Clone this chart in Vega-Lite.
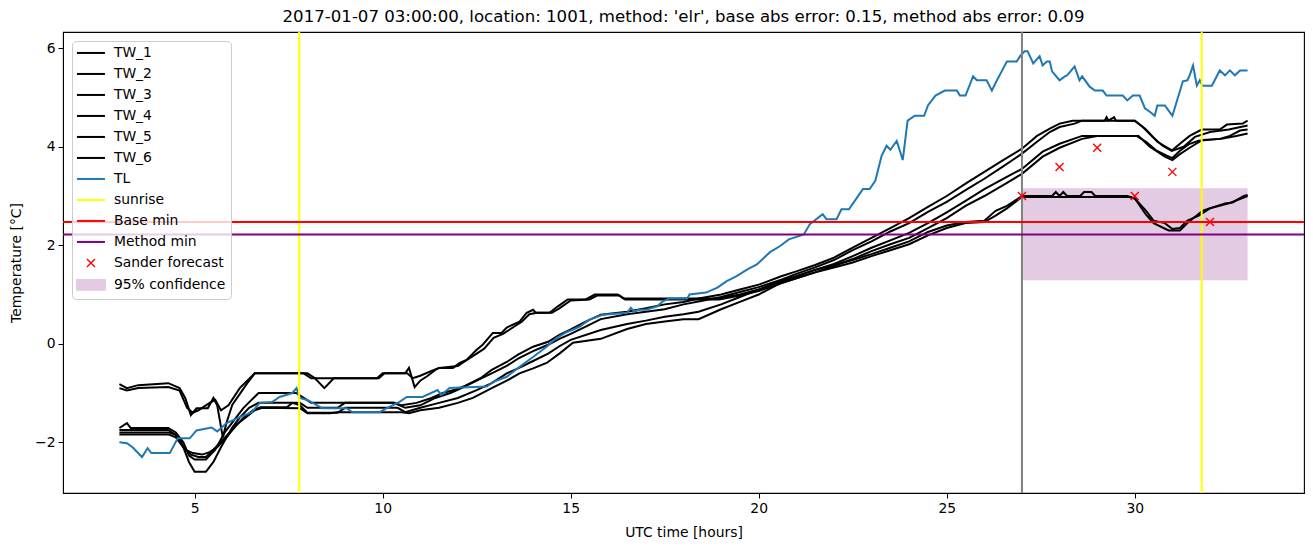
{
  "$schema": "https://vega.github.io/schema/vega-lite/v6.json",
  "width": 1241,
  "height": 461,
  "autosize": {"type": "none"},
  "padding": {"left": 63, "top": 32, "right": 9, "bottom": 54},
  "title": {"text": "2017-01-07 03:00:00, location: 1001, method: 'elr', base abs error: 0.15, method abs error: 0.09", "font": "DejaVu Sans", "fontSize": 16.6, "fontWeight": "normal", "color": "black", "anchor": "middle", "offset": 5},
  "config": {
    "view": {"stroke": "black", "strokeWidth": 1.1},
    "axis": {"labelFont": "DejaVu Sans", "labelFontSize": 13.9, "titleFont": "DejaVu Sans", "titleFontSize": 13.9, "titleFontWeight": "normal", "labelColor": "black", "titleColor": "black", "tickColor": "black", "domainColor": "black", "tickSize": 5, "grid": false, "labelPadding": 3},
    "axisX": {"titlePadding": 11},
    "axisY": {"titlePadding": 11}
  },
  "datasets": {
    "conf": [{"series": "95% confidence", "t0": 27, "t1": 33, "lo": 1.29, "hi": 3.16}],
    "vlines": [{"series": "sunrise", "t": 7.78}, {"series": "sunrise", "t": 31.78}],
    "hlines": [{"series": "Base min", "v": 2.47}, {"series": "Method min", "v": 2.22}],
    "now": [{"t": 27}],
    "forecast": [
      {"series": "Sander forecast", "t": 27, "v": 3.0},
      {"series": "Sander forecast", "t": 28, "v": 3.59},
      {"series": "Sander forecast", "t": 29, "v": 3.98},
      {"series": "Sander forecast", "t": 30, "v": 3.0},
      {"series": "Sander forecast", "t": 31, "v": 3.49},
      {"series": "Sander forecast", "t": 32, "v": 2.47}
    ],
    "lines": [
      {"series":"TW_1","t":3.0,"v":-1.71},{"series":"TW_1","t":3.2,"v":-1.61},{"series":"TW_1","t":3.3,"v":-1.71},{"series":"TW_1","t":4.3,"v":-1.71},{"series":"TW_1","t":4.5,"v":-1.8},{"series":"TW_1","t":4.7,"v":-2.0},{"series":"TW_1","t":4.85,"v":-2.27},{"series":"TW_1","t":5.0,"v":-2.35},{"series":"TW_1","t":5.3,"v":-2.35},{"series":"TW_1","t":5.55,"v":-2.15},{"series":"TW_1","t":5.8,"v":-1.8},{"series":"TW_1","t":6.0,"v":-1.6},{"series":"TW_1","t":6.3,"v":-1.3},{"series":"TW_1","t":6.5,"v":-1.15},{"series":"TW_1","t":6.7,"v":-1.0},{"series":"TW_1","t":7.7,"v":-1.0},{"series":"TW_1","t":7.9,"v":-1.1},{"series":"TW_1","t":8.1,"v":-1.2},{"series":"TW_1","t":10.3,"v":-1.2},{"series":"TW_1","t":10.5,"v":-1.25},{"series":"TW_1","t":10.9,"v":-1.2},{"series":"TW_1","t":11.3,"v":-1.1},{"series":"TW_1","t":11.6,"v":-1.0},{"series":"TW_1","t":11.9,"v":-0.94},{"series":"TW_1","t":12.2,"v":-0.85},{"series":"TW_1","t":12.6,"v":-0.7},{"series":"TW_1","t":12.9,"v":-0.53},{"series":"TW_1","t":13.3,"v":-0.37},{"series":"TW_1","t":13.6,"v":-0.22},{"series":"TW_1","t":14.0,"v":-0.06},{"series":"TW_1","t":14.4,"v":0.04},{"series":"TW_1","t":14.7,"v":0.18},{"series":"TW_1","t":15.0,"v":0.29},{"series":"TW_1","t":15.4,"v":0.45},{"series":"TW_1","t":15.8,"v":0.59},{"series":"TW_1","t":16.5,"v":0.65},{"series":"TW_1","t":17.0,"v":0.72},{"series":"TW_1","t":17.5,"v":0.8},{"series":"TW_1","t":18.0,"v":0.85},{"series":"TW_1","t":18.4,"v":0.92},{"series":"TW_1","t":19.0,"v":1.0},{"series":"TW_1","t":19.5,"v":1.1},{"series":"TW_1","t":20.0,"v":1.2},{"series":"TW_1","t":20.6,"v":1.37},{"series":"TW_1","t":21.0,"v":1.47},{"series":"TW_1","t":21.5,"v":1.6},{"series":"TW_1","t":22.0,"v":1.75},{"series":"TW_1","t":22.5,"v":1.95},{"series":"TW_1","t":23.0,"v":2.15},{"series":"TW_1","t":23.5,"v":2.35},{"series":"TW_1","t":24.0,"v":2.55},{"series":"TW_1","t":24.5,"v":2.78},{"series":"TW_1","t":25.0,"v":3.0},{"series":"TW_1","t":25.5,"v":3.25},{"series":"TW_1","t":26.0,"v":3.49},{"series":"TW_1","t":26.5,"v":3.73},{"series":"TW_1","t":27.0,"v":3.96},{"series":"TW_1","t":27.4,"v":4.22},{"series":"TW_1","t":27.74,"v":4.37},{"series":"TW_1","t":28.0,"v":4.47},{"series":"TW_1","t":28.35,"v":4.53},{"series":"TW_1","t":29.2,"v":4.53},{"series":"TW_1","t":29.25,"v":4.6},{"series":"TW_1","t":29.3,"v":4.53},{"series":"TW_1","t":29.45,"v":4.6},{"series":"TW_1","t":29.5,"v":4.53},{"series":"TW_1","t":30.0,"v":4.53},{"series":"TW_1","t":30.2,"v":4.41},{"series":"TW_1","t":30.48,"v":4.2},{"series":"TW_1","t":30.74,"v":4.02},{"series":"TW_1","t":30.98,"v":3.92},{"series":"TW_1","t":31.2,"v":4.06},{"series":"TW_1","t":31.46,"v":4.22},{"series":"TW_1","t":31.78,"v":4.35},{"series":"TW_1","t":32.26,"v":4.35},{"series":"TW_1","t":32.45,"v":4.45},{"series":"TW_1","t":32.87,"v":4.47},{"series":"TW_1","t":33.0,"v":4.53},
      {"series":"TW_2","t":3.0,"v":-1.75},{"series":"TW_2","t":4.3,"v":-1.75},{"series":"TW_2","t":4.5,"v":-1.85},{"series":"TW_2","t":4.65,"v":-2.0},{"series":"TW_2","t":4.85,"v":-2.4},{"series":"TW_2","t":5.0,"v":-2.6},{"series":"TW_2","t":5.3,"v":-2.6},{"series":"TW_2","t":5.5,"v":-2.4},{"series":"TW_2","t":5.7,"v":-2.1},{"series":"TW_2","t":5.85,"v":-1.9},{"series":"TW_2","t":6.0,"v":-1.7},{"series":"TW_2","t":6.2,"v":-1.5},{"series":"TW_2","t":6.45,"v":-1.3},{"series":"TW_2","t":6.7,"v":-1.2},{"series":"TW_2","t":7.8,"v":-1.2},{"series":"TW_2","t":8.0,"v":-1.3},{"series":"TW_2","t":8.8,"v":-1.3},{"series":"TW_2","t":9.0,"v":-1.2},{"series":"TW_2","t":10.3,"v":-1.2},{"series":"TW_2","t":10.6,"v":-1.3},{"series":"TW_2","t":11.0,"v":-1.25},{"series":"TW_2","t":11.4,"v":-1.1},{"series":"TW_2","t":11.8,"v":-1.0},{"series":"TW_2","t":12.1,"v":-0.9},{"series":"TW_2","t":12.5,"v":-0.75},{"series":"TW_2","t":12.9,"v":-0.6},{"series":"TW_2","t":13.3,"v":-0.45},{"series":"TW_2","t":13.6,"v":-0.3},{"series":"TW_2","t":14.0,"v":-0.15},{"series":"TW_2","t":14.4,"v":-0.02},{"series":"TW_2","t":14.7,"v":0.1},{"series":"TW_2","t":15.0,"v":0.2},{"series":"TW_2","t":15.4,"v":0.35},{"series":"TW_2","t":15.8,"v":0.5},{"series":"TW_2","t":16.5,"v":0.6},{"series":"TW_2","t":17.0,"v":0.65},{"series":"TW_2","t":17.5,"v":0.7},{"series":"TW_2","t":18.0,"v":0.8},{"series":"TW_2","t":18.4,"v":0.86},{"series":"TW_2","t":19.0,"v":0.95},{"series":"TW_2","t":19.5,"v":1.05},{"series":"TW_2","t":20.0,"v":1.15},{"series":"TW_2","t":20.6,"v":1.3},{"series":"TW_2","t":21.0,"v":1.42},{"series":"TW_2","t":21.5,"v":1.55},{"series":"TW_2","t":22.0,"v":1.7},{"series":"TW_2","t":22.5,"v":1.9},{"series":"TW_2","t":23.0,"v":2.08},{"series":"TW_2","t":23.5,"v":2.28},{"series":"TW_2","t":24.0,"v":2.45},{"series":"TW_2","t":24.5,"v":2.68},{"series":"TW_2","t":25.0,"v":2.88},{"series":"TW_2","t":25.5,"v":3.12},{"series":"TW_2","t":26.0,"v":3.35},{"series":"TW_2","t":26.5,"v":3.6},{"series":"TW_2","t":27.0,"v":3.86},{"series":"TW_2","t":27.4,"v":4.1},{"series":"TW_2","t":27.74,"v":4.3},{"series":"TW_2","t":28.0,"v":4.4},{"series":"TW_2","t":28.4,"v":4.47},{"series":"TW_2","t":28.6,"v":4.53},{"series":"TW_2","t":30.0,"v":4.53},{"series":"TW_2","t":30.3,"v":4.35},{"series":"TW_2","t":30.6,"v":4.1},{"series":"TW_2","t":31.0,"v":3.92},{"series":"TW_2","t":31.3,"v":4.0},{"series":"TW_2","t":31.6,"v":4.2},{"series":"TW_2","t":32.0,"v":4.3},{"series":"TW_2","t":32.5,"v":4.35},{"series":"TW_2","t":33.0,"v":4.43},
      {"series":"TW_3","t":3.0,"v":-1.8},{"series":"TW_3","t":4.3,"v":-1.8},{"series":"TW_3","t":4.5,"v":-1.85},{"series":"TW_3","t":4.7,"v":-2.1},{"series":"TW_3","t":4.9,"v":-2.25},{"series":"TW_3","t":5.1,"v":-2.3},{"series":"TW_3","t":5.3,"v":-2.3},{"series":"TW_3","t":5.5,"v":-2.15},{"series":"TW_3","t":5.75,"v":-1.95},{"series":"TW_3","t":6.0,"v":-1.75},{"series":"TW_3","t":6.3,"v":-1.5},{"series":"TW_3","t":6.55,"v":-1.35},{"series":"TW_3","t":6.75,"v":-1.29},{"series":"TW_3","t":7.45,"v":-1.29},{"series":"TW_3","t":7.6,"v":-1.2},{"series":"TW_3","t":7.8,"v":-1.25},{"series":"TW_3","t":8.0,"v":-1.4},{"series":"TW_3","t":8.8,"v":-1.4},{"series":"TW_3","t":9.0,"v":-1.3},{"series":"TW_3","t":10.4,"v":-1.3},{"series":"TW_3","t":10.6,"v":-1.39},{"series":"TW_3","t":11.0,"v":-1.3},{"series":"TW_3","t":11.5,"v":-1.2},{"series":"TW_3","t":12.0,"v":-1.1},{"series":"TW_3","t":12.5,"v":-0.94},{"series":"TW_3","t":12.9,"v":-0.8},{"series":"TW_3","t":13.3,"v":-0.6},{"series":"TW_3","t":13.6,"v":-0.5},{"series":"TW_3","t":14.0,"v":-0.35},{"series":"TW_3","t":14.4,"v":-0.2},{"series":"TW_3","t":14.7,"v":-0.05},{"series":"TW_3","t":15.0,"v":0.08},{"series":"TW_3","t":15.8,"v":0.28},{"series":"TW_3","t":16.5,"v":0.4},{"series":"TW_3","t":17.0,"v":0.47},{"series":"TW_3","t":17.5,"v":0.55},{"series":"TW_3","t":18.0,"v":0.6},{"series":"TW_3","t":18.4,"v":0.65},{"series":"TW_3","t":19.0,"v":0.8},{"series":"TW_3","t":19.5,"v":0.95},{"series":"TW_3","t":20.0,"v":1.1},{"series":"TW_3","t":20.6,"v":1.27},{"series":"TW_3","t":21.0,"v":1.37},{"series":"TW_3","t":21.5,"v":1.5},{"series":"TW_3","t":22.0,"v":1.62},{"series":"TW_3","t":22.5,"v":1.78},{"series":"TW_3","t":23.0,"v":1.95},{"series":"TW_3","t":23.5,"v":2.1},{"series":"TW_3","t":24.0,"v":2.25},{"series":"TW_3","t":24.5,"v":2.45},{"series":"TW_3","t":25.0,"v":2.67},{"series":"TW_3","t":25.5,"v":2.9},{"series":"TW_3","t":26.0,"v":3.14},{"series":"TW_3","t":26.5,"v":3.35},{"series":"TW_3","t":27.0,"v":3.55},{"series":"TW_3","t":27.55,"v":3.9},{"series":"TW_3","t":28.0,"v":4.06},{"series":"TW_3","t":28.6,"v":4.22},{"series":"TW_3","t":30.05,"v":4.22},{"series":"TW_3","t":30.3,"v":4.1},{"series":"TW_3","t":30.58,"v":3.92},{"series":"TW_3","t":30.85,"v":3.82},{"series":"TW_3","t":31.0,"v":3.77},{"series":"TW_3","t":31.2,"v":3.92},{"series":"TW_3","t":31.46,"v":4.06},{"series":"TW_3","t":31.7,"v":4.12},{"series":"TW_3","t":32.26,"v":4.16},{"series":"TW_3","t":32.53,"v":4.22},{"series":"TW_3","t":32.8,"v":4.33},{"series":"TW_3","t":33.0,"v":4.35},
      {"series":"TW_4","t":3.0,"v":-1.84},{"series":"TW_4","t":4.3,"v":-1.84},{"series":"TW_4","t":4.5,"v":-1.9},{"series":"TW_4","t":4.75,"v":-2.15},{"series":"TW_4","t":4.95,"v":-2.22},{"series":"TW_4","t":5.2,"v":-2.25},{"series":"TW_4","t":5.4,"v":-2.2},{"series":"TW_4","t":5.6,"v":-2.1},{"series":"TW_4","t":5.85,"v":-1.9},{"series":"TW_4","t":6.1,"v":-1.65},{"series":"TW_4","t":6.35,"v":-1.5},{"series":"TW_4","t":6.6,"v":-1.35},{"series":"TW_4","t":6.8,"v":-1.3},{"series":"TW_4","t":7.8,"v":-1.31},{"series":"TW_4","t":8.0,"v":-1.41},{"series":"TW_4","t":8.6,"v":-1.41},{"series":"TW_4","t":8.8,"v":-1.39},{"series":"TW_4","t":10.5,"v":-1.39},{"series":"TW_4","t":10.7,"v":-1.41},{"series":"TW_4","t":11.0,"v":-1.35},{"series":"TW_4","t":11.5,"v":-1.3},{"series":"TW_4","t":12.0,"v":-1.2},{"series":"TW_4","t":12.4,"v":-1.1},{"series":"TW_4","t":12.9,"v":-0.9},{"series":"TW_4","t":13.3,"v":-0.75},{"series":"TW_4","t":13.64,"v":-0.6},{"series":"TW_4","t":14.0,"v":-0.5},{"series":"TW_4","t":14.36,"v":-0.39},{"series":"TW_4","t":14.7,"v":-0.2},{"series":"TW_4","t":15.06,"v":0.02},{"series":"TW_4","t":15.8,"v":0.1},{"series":"TW_4","t":16.5,"v":0.3},{"series":"TW_4","t":17.0,"v":0.4},{"series":"TW_4","t":17.5,"v":0.45},{"series":"TW_4","t":18.0,"v":0.5},{"series":"TW_4","t":18.4,"v":0.5},{"series":"TW_4","t":19.0,"v":0.7},{"series":"TW_4","t":19.5,"v":0.85},{"series":"TW_4","t":20.0,"v":1.0},{"series":"TW_4","t":20.6,"v":1.24},{"series":"TW_4","t":21.0,"v":1.33},{"series":"TW_4","t":21.5,"v":1.45},{"series":"TW_4","t":22.0,"v":1.58},{"series":"TW_4","t":22.5,"v":1.72},{"series":"TW_4","t":23.0,"v":1.88},{"series":"TW_4","t":23.5,"v":2.02},{"series":"TW_4","t":24.0,"v":2.15},{"series":"TW_4","t":24.5,"v":2.35},{"series":"TW_4","t":25.0,"v":2.55},{"series":"TW_4","t":25.5,"v":2.8},{"series":"TW_4","t":26.0,"v":3.0},{"series":"TW_4","t":26.5,"v":3.22},{"series":"TW_4","t":27.0,"v":3.45},{"series":"TW_4","t":27.55,"v":3.8},{"series":"TW_4","t":28.0,"v":3.98},{"series":"TW_4","t":28.6,"v":4.16},{"series":"TW_4","t":29.0,"v":4.22},{"series":"TW_4","t":30.1,"v":4.22},{"series":"TW_4","t":30.4,"v":4.0},{"series":"TW_4","t":30.8,"v":3.8},{"series":"TW_4","t":31.0,"v":3.73},{"series":"TW_4","t":31.2,"v":3.85},{"series":"TW_4","t":31.5,"v":4.0},{"series":"TW_4","t":31.8,"v":4.14},{"series":"TW_4","t":32.3,"v":4.16},{"series":"TW_4","t":32.7,"v":4.22},{"series":"TW_4","t":33.0,"v":4.27},
      {"series":"TW_5","t":3.0,"v":-0.82},{"series":"TW_5","t":3.2,"v":-0.9},{"series":"TW_5","t":3.5,"v":-0.84},{"series":"TW_5","t":4.3,"v":-0.8},{"series":"TW_5","t":4.6,"v":-0.9},{"series":"TW_5","t":4.75,"v":-1.1},{"series":"TW_5","t":4.9,"v":-1.45},{"series":"TW_5","t":5.05,"v":-1.31},{"series":"TW_5","t":5.35,"v":-1.31},{"series":"TW_5","t":5.5,"v":-1.1},{"series":"TW_5","t":5.6,"v":-1.25},{"series":"TW_5","t":5.75,"v":-1.9},{"series":"TW_5","t":5.85,"v":-1.6},{"series":"TW_5","t":6.0,"v":-1.24},{"series":"TW_5","t":6.4,"v":-0.8},{"series":"TW_5","t":6.6,"v":-0.6},{"series":"TW_5","t":8.0,"v":-0.6},{"series":"TW_5","t":8.2,"v":-0.7},{"series":"TW_5","t":8.45,"v":-0.9},{"series":"TW_5","t":8.7,"v":-0.7},{"series":"TW_5","t":9.85,"v":-0.7},{"series":"TW_5","t":10.0,"v":-0.6},{"series":"TW_5","t":10.6,"v":-0.6},{"series":"TW_5","t":10.7,"v":-0.49},{"series":"TW_5","t":10.85,"v":-0.88},{"series":"TW_5","t":11.0,"v":-0.75},{"series":"TW_5","t":11.2,"v":-0.65},{"series":"TW_5","t":11.4,"v":-0.53},{"series":"TW_5","t":11.5,"v":-0.49},{"series":"TW_5","t":11.87,"v":-0.49},{"series":"TW_5","t":12.05,"v":-0.39},{"series":"TW_5","t":12.23,"v":-0.33},{"series":"TW_5","t":12.5,"v":-0.12},{"series":"TW_5","t":12.66,"v":-0.02},{"series":"TW_5","t":12.93,"v":0.22},{"series":"TW_5","t":13.16,"v":0.22},{"series":"TW_5","t":13.3,"v":0.33},{"series":"TW_5","t":13.64,"v":0.45},{"series":"TW_5","t":13.83,"v":0.63},{"series":"TW_5","t":14.0,"v":0.69},{"series":"TW_5","t":14.07,"v":0.63},{"series":"TW_5","t":14.44,"v":0.63},{"series":"TW_5","t":14.66,"v":0.76},{"series":"TW_5","t":14.92,"v":0.9},{"series":"TW_5","t":15.4,"v":0.9},{"series":"TW_5","t":15.64,"v":1.0},{"series":"TW_5","t":16.25,"v":1.0},{"series":"TW_5","t":16.4,"v":0.92},{"series":"TW_5","t":18.9,"v":0.92},{"series":"TW_5","t":19.5,"v":1.0},{"series":"TW_5","t":20.0,"v":1.1},{"series":"TW_5","t":20.5,"v":1.25},{"series":"TW_5","t":21.0,"v":1.37},{"series":"TW_5","t":21.5,"v":1.5},{"series":"TW_5","t":22.0,"v":1.6},{"series":"TW_5","t":22.5,"v":1.7},{"series":"TW_5","t":23.0,"v":1.82},{"series":"TW_5","t":23.5,"v":1.95},{"series":"TW_5","t":24.0,"v":2.08},{"series":"TW_5","t":24.5,"v":2.27},{"series":"TW_5","t":25.0,"v":2.4},{"series":"TW_5","t":25.5,"v":2.47},{"series":"TW_5","t":26.0,"v":2.5},{"series":"TW_5","t":26.3,"v":2.7},{"series":"TW_5","t":26.6,"v":2.8},{"series":"TW_5","t":27.0,"v":3.0},{"series":"TW_5","t":27.8,"v":3.0},{"series":"TW_5","t":27.9,"v":3.08},{"series":"TW_5","t":28.0,"v":3.0},{"series":"TW_5","t":28.1,"v":3.08},{"series":"TW_5","t":28.2,"v":3.0},{"series":"TW_5","t":28.55,"v":3.0},{"series":"TW_5","t":28.65,"v":3.08},{"series":"TW_5","t":28.85,"v":3.08},{"series":"TW_5","t":28.95,"v":3.0},{"series":"TW_5","t":29.8,"v":3.0},{"series":"TW_5","t":30.0,"v":2.95},{"series":"TW_5","t":30.3,"v":2.7},{"series":"TW_5","t":30.5,"v":2.5},{"series":"TW_5","t":30.8,"v":2.45},{"series":"TW_5","t":31.0,"v":2.33},{"series":"TW_5","t":31.2,"v":2.35},{"series":"TW_5","t":31.4,"v":2.5},{"series":"TW_5","t":31.7,"v":2.6},{"series":"TW_5","t":32.0,"v":2.75},{"series":"TW_5","t":32.4,"v":2.85},{"series":"TW_5","t":32.6,"v":2.87},{"series":"TW_5","t":32.9,"v":3.0},{"series":"TW_5","t":33.0,"v":3.02},
      {"series":"TW_6","t":3.0,"v":-0.9},{"series":"TW_6","t":3.2,"v":-0.95},{"series":"TW_6","t":3.5,"v":-0.9},{"series":"TW_6","t":4.3,"v":-0.88},{"series":"TW_6","t":4.6,"v":-0.95},{"series":"TW_6","t":4.8,"v":-1.3},{"series":"TW_6","t":4.95,"v":-1.4},{"series":"TW_6","t":5.1,"v":-1.35},{"series":"TW_6","t":5.4,"v":-1.2},{"series":"TW_6","t":5.55,"v":-1.14},{"series":"TW_6","t":5.7,"v":-1.35},{"series":"TW_6","t":5.9,"v":-1.25},{"series":"TW_6","t":6.2,"v":-0.9},{"series":"TW_6","t":6.6,"v":-0.6},{"series":"TW_6","t":7.9,"v":-0.6},{"series":"TW_6","t":8.1,"v":-0.7},{"series":"TW_6","t":9.9,"v":-0.7},{"series":"TW_6","t":10.05,"v":-0.6},{"series":"TW_6","t":10.65,"v":-0.6},{"series":"TW_6","t":10.8,"v":-0.7},{"series":"TW_6","t":11.0,"v":-0.65},{"series":"TW_6","t":11.3,"v":-0.55},{"series":"TW_6","t":11.5,"v":-0.49},{"series":"TW_6","t":12.0,"v":-0.45},{"series":"TW_6","t":12.2,"v":-0.35},{"series":"TW_6","t":12.5,"v":-0.2},{"series":"TW_6","t":12.7,"v":-0.1},{"series":"TW_6","t":12.95,"v":0.12},{"series":"TW_6","t":13.2,"v":0.2},{"series":"TW_6","t":13.4,"v":0.3},{"series":"TW_6","t":13.7,"v":0.45},{"series":"TW_6","t":13.9,"v":0.6},{"series":"TW_6","t":14.1,"v":0.63},{"series":"TW_6","t":14.5,"v":0.63},{"series":"TW_6","t":14.7,"v":0.72},{"series":"TW_6","t":15.0,"v":0.88},{"series":"TW_6","t":15.5,"v":0.9},{"series":"TW_6","t":15.7,"v":0.98},{"series":"TW_6","t":16.3,"v":0.98},{"series":"TW_6","t":16.45,"v":0.9},{"series":"TW_6","t":18.95,"v":0.9},{"series":"TW_6","t":19.5,"v":0.98},{"series":"TW_6","t":20.0,"v":1.07},{"series":"TW_6","t":20.5,"v":1.2},{"series":"TW_6","t":21.0,"v":1.33},{"series":"TW_6","t":21.5,"v":1.45},{"series":"TW_6","t":22.0,"v":1.55},{"series":"TW_6","t":22.5,"v":1.65},{"series":"TW_6","t":23.0,"v":1.78},{"series":"TW_6","t":23.5,"v":1.9},{"series":"TW_6","t":24.0,"v":2.02},{"series":"TW_6","t":24.5,"v":2.2},{"series":"TW_6","t":25.0,"v":2.35},{"series":"TW_6","t":25.5,"v":2.45},{"series":"TW_6","t":26.0,"v":2.47},{"series":"TW_6","t":26.3,"v":2.6},{"series":"TW_6","t":26.6,"v":2.75},{"series":"TW_6","t":27.0,"v":2.98},{"series":"TW_6","t":29.85,"v":2.98},{"series":"TW_6","t":30.0,"v":2.95},{"series":"TW_6","t":30.3,"v":2.62},{"series":"TW_6","t":30.5,"v":2.45},{"series":"TW_6","t":30.9,"v":2.3},{"series":"TW_6","t":31.2,"v":2.3},{"series":"TW_6","t":31.4,"v":2.45},{"series":"TW_6","t":31.8,"v":2.7},{"series":"TW_6","t":32.0,"v":2.75},{"series":"TW_6","t":32.5,"v":2.85},{"series":"TW_6","t":33.0,"v":3.0},
      {"series":"TL","t":3.0,"v":-2.0},{"series":"TL","t":3.2,"v":-2.02},{"series":"TL","t":3.35,"v":-2.1},{"series":"TL","t":3.6,"v":-2.3},{"series":"TL","t":3.75,"v":-2.12},{"series":"TL","t":3.85,"v":-2.22},{"series":"TL","t":4.34,"v":-2.22},{"series":"TL","t":4.55,"v":-1.92},{"series":"TL","t":4.87,"v":-1.92},{"series":"TL","t":5.05,"v":-1.76},{"series":"TL","t":5.45,"v":-1.7},{"series":"TL","t":5.6,"v":-1.78},{"series":"TL","t":5.85,"v":-1.61},{"series":"TL","t":6.2,"v":-1.49},{"series":"TL","t":6.52,"v":-1.39},{"series":"TL","t":6.73,"v":-1.2},{"series":"TL","t":7.07,"v":-1.18},{"series":"TL","t":7.26,"v":-1.08},{"series":"TL","t":7.6,"v":-1.0},{"series":"TL","t":7.71,"v":-0.9},{"series":"TL","t":7.79,"v":-1.1},{"series":"TL","t":8.0,"v":-1.14},{"series":"TL","t":8.4,"v":-1.31},{"series":"TL","t":9.04,"v":-1.31},{"series":"TL","t":9.2,"v":-1.39},{"series":"TL","t":9.92,"v":-1.39},{"series":"TL","t":10.1,"v":-1.31},{"series":"TL","t":10.45,"v":-1.18},{"series":"TL","t":10.64,"v":-1.08},{"series":"TL","t":11.06,"v":-1.08},{"series":"TL","t":11.46,"v":-0.94},{"series":"TL","t":11.56,"v":-1.04},{"series":"TL","t":11.78,"v":-0.9},{"series":"TL","t":12.77,"v":-0.87},{"series":"TL","t":12.93,"v":-0.78},{"series":"TL","t":13.3,"v":-0.67},{"series":"TL","t":13.64,"v":-0.47},{"series":"TL","t":14.0,"v":-0.27},{"series":"TL","t":14.36,"v":-0.06},{"series":"TL","t":14.63,"v":0.12},{"series":"TL","t":14.9,"v":0.24},{"series":"TL","t":15.1,"v":0.3},{"series":"TL","t":15.24,"v":0.35},{"series":"TL","t":15.5,"v":0.49},{"series":"TL","t":15.85,"v":0.59},{"series":"TL","t":16.5,"v":0.63},{"series":"TL","t":16.6,"v":0.73},{"series":"TL","t":16.7,"v":0.65},{"series":"TL","t":16.8,"v":0.69},{"series":"TL","t":17.0,"v":0.69},{"series":"TL","t":17.3,"v":0.76},{"series":"TL","t":17.45,"v":0.86},{"series":"TL","t":17.63,"v":0.92},{"series":"TL","t":18.1,"v":0.92},{"series":"TL","t":18.16,"v":1.0},{"series":"TL","t":18.6,"v":1.04},{"series":"TL","t":18.9,"v":1.14},{"series":"TL","t":19.15,"v":1.27},{"series":"TL","t":19.4,"v":1.37},{"series":"TL","t":19.7,"v":1.51},{"series":"TL","t":19.95,"v":1.61},{"series":"TL","t":20.3,"v":1.86},{"series":"TL","t":20.56,"v":1.98},{"series":"TL","t":20.8,"v":2.12},{"series":"TL","t":21.2,"v":2.22},{"series":"TL","t":21.36,"v":2.43},{"series":"TL","t":21.5,"v":2.51},{"series":"TL","t":21.7,"v":2.63},{"series":"TL","t":21.8,"v":2.53},{"series":"TL","t":22.07,"v":2.53},{"series":"TL","t":22.2,"v":2.73},{"series":"TL","t":22.4,"v":2.73},{"series":"TL","t":22.77,"v":3.14},{"series":"TL","t":22.95,"v":3.14},{"series":"TL","t":23.1,"v":3.31},{"series":"TL","t":23.27,"v":3.82},{"series":"TL","t":23.4,"v":4.02},{"series":"TL","t":23.5,"v":3.94},{"series":"TL","t":23.67,"v":4.12},{"series":"TL","t":23.83,"v":3.73},{"series":"TL","t":23.96,"v":4.53},{"series":"TL","t":24.15,"v":4.63},{"series":"TL","t":24.4,"v":4.63},{"series":"TL","t":24.5,"v":4.84},{"series":"TL","t":24.7,"v":5.04},{"series":"TL","t":24.95,"v":5.14},{"series":"TL","t":25.27,"v":5.14},{"series":"TL","t":25.35,"v":5.04},{"series":"TL","t":25.5,"v":5.04},{"series":"TL","t":25.7,"v":5.43},{"series":"TL","t":25.8,"v":5.35},{"series":"TL","t":26.06,"v":5.35},{"series":"TL","t":26.2,"v":5.14},{"series":"TL","t":26.3,"v":5.3},{"series":"TL","t":26.46,"v":5.53},{"series":"TL","t":26.6,"v":5.73},{"series":"TL","t":26.86,"v":5.73},{"series":"TL","t":26.95,"v":5.84},{"series":"TL","t":27.07,"v":5.94},{"series":"TL","t":27.15,"v":5.94},{"series":"TL","t":27.3,"v":5.69},{"series":"TL","t":27.47,"v":5.84},{"series":"TL","t":27.55,"v":5.65},{"series":"TL","t":27.66,"v":5.73},{"series":"TL","t":27.74,"v":5.73},{"series":"TL","t":27.8,"v":5.53},{"series":"TL","t":28.0,"v":5.35},{"series":"TL","t":28.14,"v":5.43},{"series":"TL","t":28.2,"v":5.45},{"series":"TL","t":28.4,"v":5.63},{"series":"TL","t":28.53,"v":5.35},{"series":"TL","t":28.6,"v":5.43},{"series":"TL","t":28.8,"v":5.22},{"series":"TL","t":28.94,"v":5.14},{"series":"TL","t":29.15,"v":5.14},{"series":"TL","t":29.25,"v":5.04},{"series":"TL","t":29.68,"v":5.04},{"series":"TL","t":29.8,"v":4.94},{"series":"TL","t":29.95,"v":5.04},{"series":"TL","t":30.13,"v":5.04},{"series":"TL","t":30.27,"v":4.78},{"series":"TL","t":30.4,"v":4.71},{"series":"TL","t":30.53,"v":4.63},{"series":"TL","t":30.6,"v":4.84},{"series":"TL","t":30.8,"v":4.84},{"series":"TL","t":31.0,"v":4.63},{"series":"TL","t":31.28,"v":5.33},{"series":"TL","t":31.4,"v":5.35},{"series":"TL","t":31.46,"v":5.45},{"series":"TL","t":31.55,"v":5.65},{"series":"TL","t":31.65,"v":5.24},{"series":"TL","t":31.73,"v":5.35},{"series":"TL","t":31.8,"v":5.24},{"series":"TL","t":32.05,"v":5.24},{"series":"TL","t":32.26,"v":5.55},{"series":"TL","t":32.4,"v":5.45},{"series":"TL","t":32.53,"v":5.55},{"series":"TL","t":32.66,"v":5.45},{"series":"TL","t":32.8,"v":5.55},{"series":"TL","t":33.0,"v":5.55}
    ]
  },
  "layer": [
    {
      "data": {"name": "conf"},
      "mark": {"type": "rect"},
      "encoding": {
        "x": {"field": "t0", "type": "quantitative", "scale": {"domain": [1.5, 34.5], "nice": false, "zero": false}, "axis": {"values": [5, 10, 15, 20, 25, 30], "title": "UTC time [hours]"}},
        "x2": {"field": "t1"},
        "y": {"field": "lo", "type": "quantitative", "scale": {"domain": [-3.03, 6.33], "nice": false, "zero": false}, "axis": {"values": [-2, 0, 2, 4, 6], "title": "Temperature [°C]"}},
        "y2": {"field": "hi"},
        "color": {
          "field": "series", "type": "nominal",
          "scale": {"domain": ["TW_1","TW_2","TW_3","TW_4","TW_5","TW_6","TL","sunrise","Base min","Method min","Sander forecast","95% confidence"], "range": ["#000000","#000000","#000000","#000000","#000000","#000000","#1f77b4","#ffff00","#ff0000","#800080","#ff0000","#e3cbe3"]},
          "legend": {
            "title": null, "orient": "top-left", "offset": 9,
            "fillColor": "rgba(255,255,255,0.8)", "strokeColor": "#cccccc", "cornerRadius": 4, "padding": 5,
            "rowPadding": 6, "symbolSize": 196, "symbolOffset": 7, "labelOffset": 16, "symbolStrokeWidth": 2,
            "labelFont": "DejaVu Sans", "labelFontSize": 13.9, "labelColor": "black", "labelLimit": 300,
            "encode": {
              "symbols": {
                "update": {
                  "shape": {"signal": "datum.value === 'Sander forecast' ? 'M-0.57,-0.57L0.57,0.57M-0.57,0.57L0.57,-0.57' : datum.value === '95% confidence' ? 'M-2,-0.7H2V0.7H-2Z' : 'M-2,0H2'"},
                  "fill": {"signal": "datum.value === '95% confidence' ? '#e3cbe3' : 'transparent'"},
                  "stroke": {"signal": "datum.value === '95% confidence' ? 'transparent' : scale('color', datum.value)"},
                  "strokeWidth": {"signal": "datum.value === 'Sander forecast' ? 1.4 : 2"},
                  "opacity": {"value": 1}
                }
              }
            }
          }
        }
      }
    },
    {
      "data": {"name": "lines"},
      "mark": {"type": "line", "strokeWidth": 2},
      "encoding": {
        "x": {"field": "t", "type": "quantitative"},
        "y": {"field": "v", "type": "quantitative"},
        "color": {"field": "series", "type": "nominal"},
        "detail": {"field": "series"}
      }
    },
    {
      "data": {"name": "vlines"},
      "mark": {"type": "rule", "strokeWidth": 2},
      "encoding": {
        "x": {"field": "t", "type": "quantitative"},
        "color": {"field": "series", "type": "nominal"}
      }
    },
    {
      "data": {"name": "now"},
      "mark": {"type": "rule", "strokeWidth": 2, "color": "#808080"},
      "encoding": {
        "x": {"field": "t", "type": "quantitative"}
      }
    },
    {
      "data": {"name": "hlines"},
      "mark": {"type": "rule", "strokeWidth": 2},
      "encoding": {
        "y": {"field": "v", "type": "quantitative"},
        "color": {"field": "series", "type": "nominal"}
      }
    },
    {
      "data": {"name": "forecast"},
      "mark": {"type": "point", "shape": "M-1,-1L1,1M-1,1L1,-1", "size": 64, "filled": false, "strokeWidth": 1.4, "opacity": 1},
      "encoding": {
        "x": {"field": "t", "type": "quantitative"},
        "y": {"field": "v", "type": "quantitative"},
        "color": {"field": "series", "type": "nominal"}
      }
    }
  ]
}
